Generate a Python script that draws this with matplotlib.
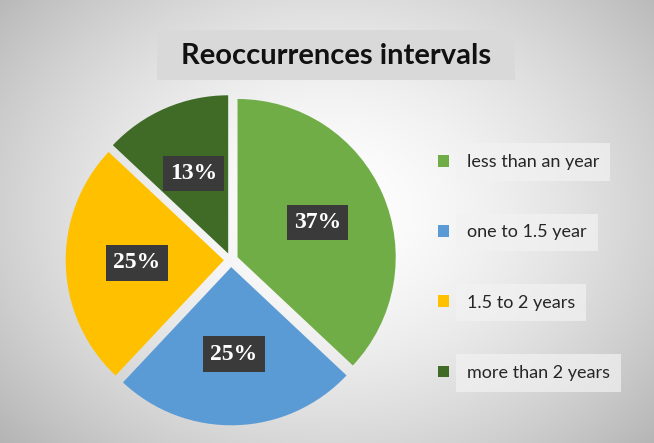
import numpy as np
import matplotlib.pyplot as plt
from matplotlib.patches import Rectangle, Patch

labels = ["less than an year", "one to 1.5 year", "1.5 to 2 years", "more than 2 years"]
shares = [37, 25, 25, 13]
colors = ["#70AD47", "#5B9BD5", "#FFC000", "#3F6B27"]
title = "Reoccurrences intervals"

W, H = 654, 443
fig = plt.figure(figsize=(W / 100, H / 100), dpi=100)

# ── soft radial background like the Excel chart area ────────────────────────
bg = fig.add_axes([0, 0, 1, 1], zorder=0)
yy, xx = np.mgrid[0:H, 0:W]
d = np.sqrt(((xx - 330) / 420) ** 2 + ((yy - 210) / 330) ** 2)
shade = 1.0 - 0.27 * np.clip(d, 0, 1.3) ** 1.6
bg.imshow(np.dstack([shade] * 3), extent=[0, 1, 0, 1], aspect="auto")
bg.set_axis_off()

# ── title box ───────────────────────────────────────────────────────────────
fig.patches.append(Rectangle((157 / W, 1 - 80 / H), (515 - 157) / W, 50 / H,
                             transform=fig.transFigure, facecolor="#d9d9d9",
                             edgecolor="none", zorder=1))
fig.text(336 / W, 1 - 56 / H, title, ha="center", va="center",
         fontsize=21, fontweight="bold", family="Lato", color="#111111", zorder=2)

# ── pie ─────────────────────────────────────────────────────────────────────
ax = fig.add_axes([(231 - 174) / W, (H - 260 - 174) / H, 348 / W, 348 / H], zorder=1)
wedges, _, autotexts = ax.pie(
    shares, colors=colors, startangle=90, counterclock=False,
    explode=[0.045] * 4, autopct="%d%%", pctdistance=0.55,
    wedgeprops=dict(linewidth=0),
)
for t in autotexts:
    t.set_color("white")
    t.set_fontsize(17)
    t.set_fontweight("bold")
    t.set_family("Liberation Serif")
    t.set_bbox(dict(boxstyle="square,pad=0.3", facecolor="#3a3a3a", edgecolor="none"))
ax.set_xlim(-1.1, 1.1)
ax.set_ylim(-1.1, 1.1)
ax.set_axis_off()

# ── legend ──────────────────────────────────────────────────────────────────
handles = [Patch(facecolor=c, edgecolor="none") for c in colors]
leg = fig.legend(handles, labels, loc="upper left",
                 bbox_to_anchor=(422 / W, 1 - 138 / H), frameon=False,
                 handlelength=0.6, handleheight=0.6, handletextpad=1.0,
                 labelspacing=3.0, prop=dict(family="Lato", size=13))
for t in leg.get_texts():
    t.set_color("#262626")
    t.set_bbox(dict(boxstyle="square,pad=0.6", facecolor="#f2f2f2",
                    edgecolor="none", alpha=0.7))

fig.savefig("out.png", dpi=100)
